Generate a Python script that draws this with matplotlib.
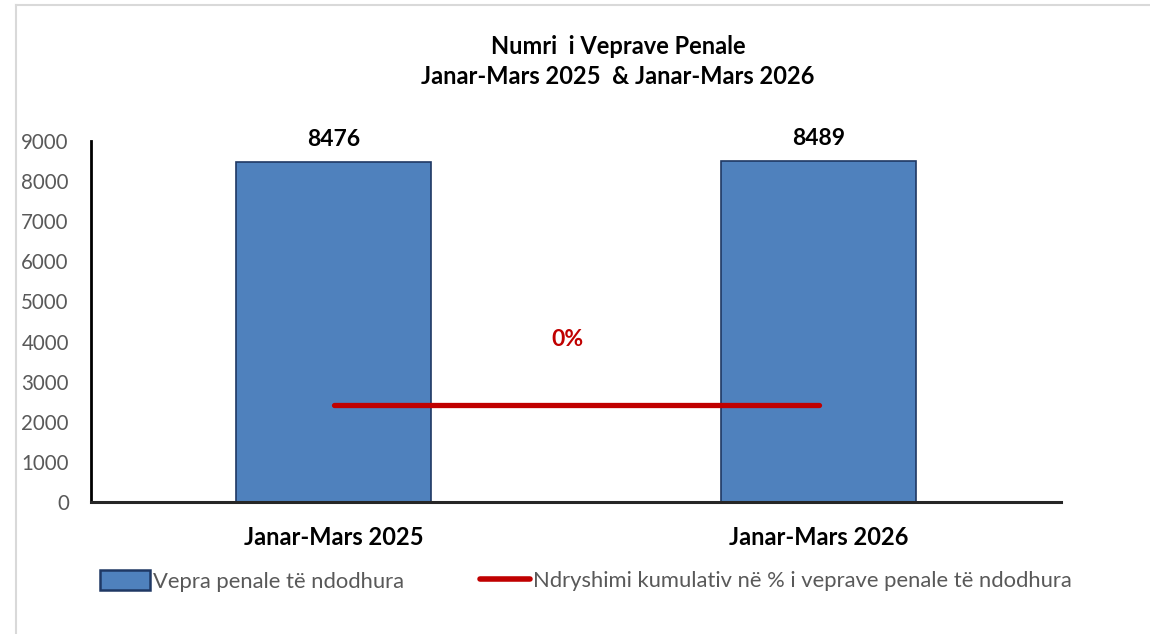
import matplotlib
matplotlib.use("Agg")
import matplotlib.pyplot as plt
from matplotlib.patches import Patch
from matplotlib.lines import Line2D

categories = ["Janar-Mars 2025", "Janar-Mars 2026"]
offences = [8476, 8489]
pct_change = [0.15, 0.15]
pct_label = "0%"
yticks = [0, 1000, 2000, 3000, 4000, 5000, 6000, 7000, 8000, 9000]
title_lines = ["Numri  i Veprave Penale", "Janar-Mars 2025  & Janar-Mars 2026"]
legend_bar = "Vepra penale të ndodhura"
legend_line = "Ndryshimi kumulativ në % i veprave penale të ndodhura"

plt.rcParams['font.family'] = ['Lato', 'DejaVu Sans']

W, H = 1150, 634
fig = plt.figure(figsize=(W/100, H/100), dpi=100)
fig.patch.set_facecolor("white")

# outer light border
fig.add_artist(Line2D([16/W, 16/W], [0, 1-5/H], color="#d9d9d9", lw=1.5))
fig.add_artist(Line2D([16/W, 1], [1-5/H, 1-5/H], color="#d9d9d9", lw=1.5))

left, right, bottom, top = 91/W, 1061/W, 1-502/H, 1-141/H
ax = fig.add_axes([left, bottom, right-left, top-bottom])
x = list(range(len(categories)))
ax.bar(x, offences, width=0.404, color="#4F81BD", edgecolor="#1F3864", linewidth=1.2, zorder=2)
ax.set_xlim(-0.5, len(categories)-0.5)
ax.set_ylim(0, 9000)
ax.set_yticks(yticks)
ax.set_yticklabels([str(t) for t in yticks], color="#595959", fontsize=14.8)
ax.set_xticks(x)
ax.set_xticklabels(categories, fontsize=17, fontweight="bold", color="black")
ax.tick_params(axis="both", length=0)
ax.tick_params(axis="x", pad=17)
ax.tick_params(axis="y", pad=16)
for s in ["top", "right"]:
    ax.spines[s].set_visible(False)
ax.spines["left"].set_linewidth(2)
ax.spines["bottom"].set_linewidth(2.2)
ax.spines["bottom"].set_color("#262626")
ax.spines["left"].set_color("black")

for xi, v in zip(x, offences):
    ax.annotate(str(v), (xi, v), xytext=(0, 9), textcoords="offset points",
                ha="center", va="bottom", fontsize=16.5, fontweight="bold", color="black")

ax2 = ax.twinx()
ax2.set_ylim(-1, 3.3)
ax2.plot(x, pct_change, color="#C00000", lw=3.8, solid_capstyle="round", zorder=3)
ax2.axis("off")
ax2.annotate(pct_label, ((x[0]+x[-1])/2, pct_change[0]), xytext=(-6, 40), textcoords="offset points",
             ha="center", va="bottom", fontsize=16.5, fontweight="bold", color="#C00000")

fig.text(618/W, 1-46/H, title_lines[0], ha="center", va="center", fontsize=17, fontweight="bold")
fig.text(618/W, 1-77/H, title_lines[1], ha="center", va="center", fontsize=17, fontweight="bold")

h_bar = Patch(facecolor="#4F81BD", edgecolor="#1F3864", linewidth=1.8)
h_line = Line2D([0], [0], color="#C00000", lw=4, solid_capstyle="round")
fig.legend([h_bar], [legend_bar], loc="center left", bbox_to_anchor=(100/W, 1-581/H),
           frameon=False, fontsize=15.8, handlelength=2.3, handleheight=1.0, handletextpad=0.1,
           borderpad=0, borderaxespad=0, labelcolor="#595959")
fig.legend([h_line], [legend_line], loc="center left", bbox_to_anchor=(480/W, 1-581/H),
           frameon=False, fontsize=15.8, handlelength=2.3, handletextpad=0.1,
           borderpad=0, borderaxespad=0, labelcolor="#595959")

fig.savefig("out.png", dpi=100, facecolor="white")
